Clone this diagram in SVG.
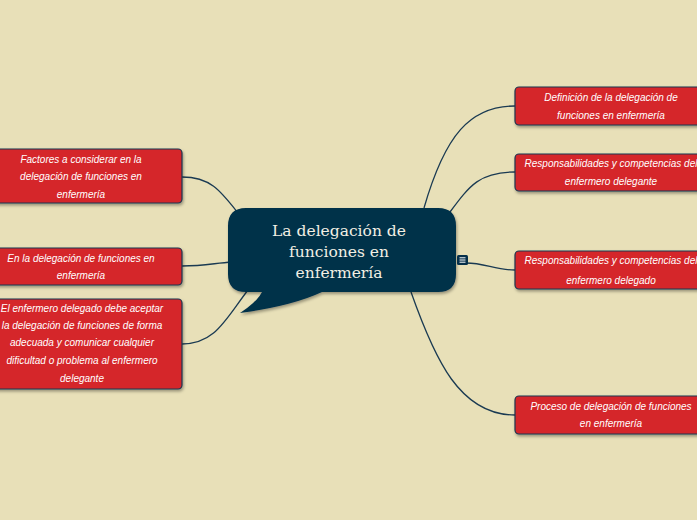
<svg xmlns="http://www.w3.org/2000/svg" width="697" height="520" viewBox="0 0 697 520">
<defs>
<filter id="sh" x="-10%" y="-10%" width="130%" height="140%">
<feDropShadow dx="1" dy="2" stdDeviation="1.5" flood-color="#000" flood-opacity="0.35"/>
</filter>
<style>
.node rect{fill:#d5282b;stroke:#1c3650;stroke-width:1.2;filter:url(#sh)}
.node text{font-family:"Liberation Sans","Noto Sans",sans-serif;font-style:italic;font-size:10px;fill:#fff;text-anchor:middle}
.conn path{fill:none;stroke:#1a3a52;stroke-width:1.3}
.main text{font-family:"DejaVu Serif","Liberation Serif",serif;font-size:15.5px;fill:#f2efe4;text-anchor:middle}
</style>
</defs>
<rect width="697" height="520" fill="#e8e0b8"/>
<g id="connectors" class="conn">
<path d="M182,177 C210,177 220,190 238,213"/>
<path d="M182,266 C205,266 215,263 232,262"/>
<path d="M182,344 C215,344 225,320 248,290"/>
<path d="M515,106 C470,106 445,135 424,208"/>
<path d="M515,172 C480,172 470,185 450,212"/>
<path d="M466,263 C485,263 495,270 515,270"/>
<path d="M515,415 C460,415 435,360 411,292"/>
</g>
<g id="center" class="main">
<path d="M246,208 H438 Q456,208 456,226 V274 Q456,292 438,292 H322 Q292,306 240,313 Q257,302 262,292 H246 Q228,292 228,274 V226 Q228,208 246,208 Z" fill="#06304a" filter="url(#sh)"/>
<text x="339" y="236">La delegación de</text>
<text x="339" y="257">funciones en</text>
<text x="339" y="278">enfermería</text>
<rect x="457" y="255" width="11" height="10" rx="1.5" fill="#06304a"/>
<path d="M459.5,257.8 h6 M459.5,260 h6 M459.5,262.2 h6" stroke="#fff" stroke-width="1"/>
</g>
<g id="n-factores" class="node">
<rect x="-6" y="149" width="188" height="54" rx="4"/>
<text x="81" y="163">Factores a considerar en la</text>
<text x="81" y="180">delegación de funciones en</text>
<text x="81" y="198">enfermería</text>
</g>
<g id="n-en-la" class="node">
<rect x="-6" y="248" width="188" height="37" rx="4"/>
<text x="81" y="262">En la delegación de funciones en</text>
<text x="81" y="279">enfermería</text>
</g>
<g id="n-enfermero" class="node">
<rect x="-6" y="299" width="188" height="90" rx="4"/>
<text x="82" y="312">El enfermero delegado debe aceptar</text>
<text x="82" y="329">la delegación de funciones de forma</text>
<text x="82" y="346">adecuada y comunicar cualquier</text>
<text x="82" y="364">dificultad o problema al enfermero</text>
<text x="82" y="382">delegante</text>
</g>
<g id="n-definicion" class="node">
<rect x="515" y="87" width="190" height="38" rx="4"/>
<text x="611" y="101">Definición de la delegación de</text>
<text x="611" y="119">funciones en enfermería</text>
</g>
<g id="n-resp-delegante" class="node">
<rect x="515" y="154" width="190" height="37" rx="4"/>
<text x="611" y="167">Responsabilidades y competencias del</text>
<text x="611" y="185">enfermero delegante</text>
</g>
<g id="n-resp-delegado" class="node">
<rect x="515" y="251" width="190" height="38" rx="4"/>
<text x="611" y="264">Responsabilidades y competencias del</text>
<text x="611" y="284">enfermero delegado</text>
</g>
<g id="n-proceso" class="node">
<rect x="515" y="396" width="190" height="38" rx="4"/>
<text x="611" y="410">Proceso de delegación de funciones</text>
<text x="611" y="427">en enfermería</text>
</g>
</svg>
